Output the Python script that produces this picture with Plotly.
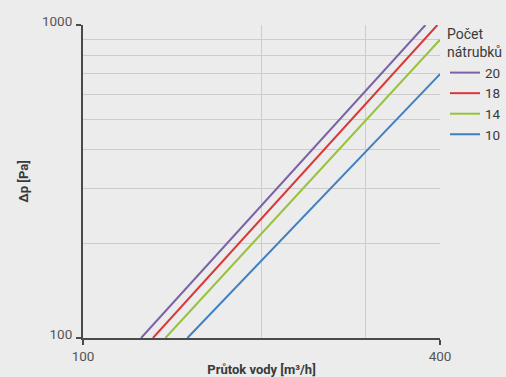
import plotly.graph_objects as go

# Series: (flow start, flow end) and (dp start, dp end)
series_names = ["20", "18", "14", "10"]
series_colors = ["#7b62a6", "#d9383a", "#98c23c", "#3f7fc2"]
flow_20 = [125.3, 378]
dp_20 = [100, 1000]
flow_18 = [131.2, 396]
dp_18 = [100, 1000]
flow_14 = [137.7, 400]
dp_14 = [100, 897]
flow_10 = [150, 400]
dp_10 = [100, 697]

flows = [flow_20, flow_18, flow_14, flow_10]
dps = [dp_20, dp_18, dp_14, dp_10]

x_ticks = [100, 400]
x_minor = [200, 300]
y_ticks = [100, 1000]
y_minor = [200, 300, 400, 500, 600, 700, 800, 900]

bg = "#ebeceb"
grid = "#cbcccb"
axis_col = "#4a4a4a"
txt = "#3a3a3a"

fig = go.Figure()
for name, col, fx, fy in zip(series_names, series_colors, flows, dps):
    fig.add_trace(go.Scatter(x=fx, y=fy, mode="lines", name=name,
                             line=dict(color=col, width=2)))

fig.update_layout(
    width=506, height=377,
    margin=dict(l=83, r=66, t=25, b=39, autoexpand=False),
    paper_bgcolor=bg, plot_bgcolor=bg,
    font=dict(family="Roboto, sans-serif", size=13, color=txt),
    showlegend=True,
    legend=dict(
        title=dict(text="Počet<br>nátrubků", font=dict(size=14, color=txt)),
        x=1.014, xanchor="left", y=1.013, yanchor="top",
        font=dict(size=13.5, color=txt),
        bgcolor="rgba(0,0,0,0)",
        itemwidth=30, tracegroupgap=0,
    ),
)

fig.update_xaxes(
    type="log", range=[2, 0.60206 + 2], automargin=False,
    tickvals=x_ticks, ticktext=[str(v) for v in x_ticks],
    ticks="outside", ticklen=5, tickcolor=axis_col, tickwidth=1.5,
    showline=True, linecolor=axis_col, linewidth=2,
    showgrid=True, gridcolor=grid, gridwidth=1,
    minor=dict(tickvals=x_minor, showgrid=True, gridcolor=grid, gridwidth=1, ticks=""),
    tickfont=dict(size=13.5, color="#555555"),
    title=dict(text="<b>Průtok vody [m³/h]</b>", font=dict(size=13, color=txt), standoff=2),
    zeroline=False,
)
fig.update_yaxes(
    type="log", range=[2, 3], automargin=False,
    tickvals=y_ticks, ticktext=[str(v) for v in y_ticks],
    ticks="outside", ticklen=5, tickcolor=axis_col, tickwidth=1.5,
    ticklabelshift=-4, ticklabelstandoff=1,
    showline=True, linecolor=axis_col, linewidth=2,
    showgrid=True, gridcolor=grid, gridwidth=1,
    minor=dict(tickvals=y_minor, showgrid=True, gridcolor=grid, gridwidth=1, ticks=""),
    tickfont=dict(size=13.5, color="#555555"),
    title=dict(text="<b>Δp [Pa]</b>", font=dict(size=13, color=txt), standoff=10),
    zeroline=False,
)

fig.write_html("out.html")
